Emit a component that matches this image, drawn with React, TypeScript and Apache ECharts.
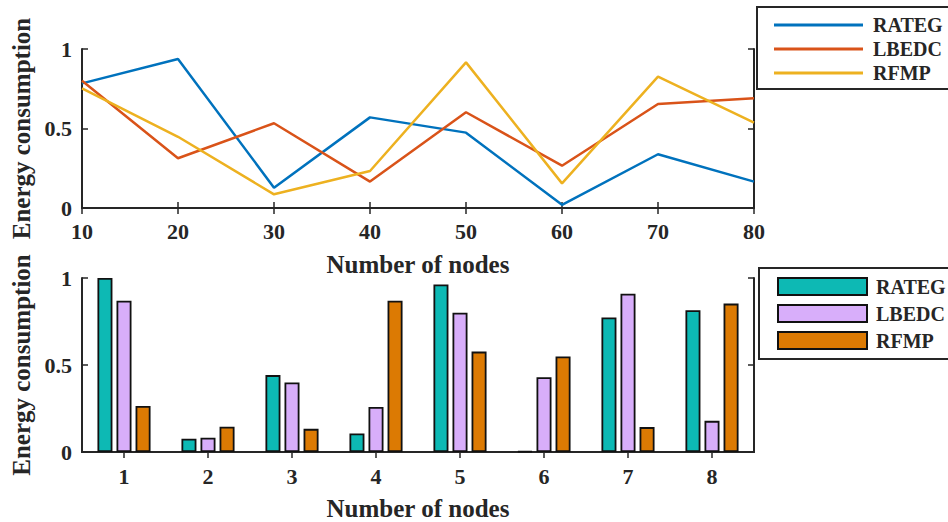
import React, { useEffect, useRef } from "react";
import * as echarts from "echarts";

const seriesNames = ["RATEG", "LBEDC", "RFMP"];
const nodeCounts = [10, 20, 30, 40, 50, 60, 70, 80];
const lineRATEG = [0.784, 0.937, 0.128, 0.57, 0.474, 0.02, 0.338, 0.166];
const lineLBEDC = [0.8, 0.313, 0.533, 0.166, 0.602, 0.266, 0.654, 0.69];
const lineRFMP = [0.753, 0.448, 0.086, 0.233, 0.916, 0.155, 0.826, 0.537];

const barCategories = ["1", "2", "3", "4", "5", "6", "7", "8"];
const barRATEG = [1.0, 0.076, 0.442, 0.106, 0.963, 0.005, 0.773, 0.815];
const barLBEDC = [0.869, 0.082, 0.4, 0.259, 0.8, 0.43, 0.91, 0.179];
const barRFMP = [0.265, 0.145, 0.133, 0.869, 0.577, 0.549, 0.143, 0.853];

const yTicks = { min: 0, max: 1, interval: 0.5 };

const lineColors = ["#0072BD", "#D95319", "#EDB120"];
const barColors = ["#0DB9B4", "#D8AEFA", "#DC7A03"];
const FONT = "'Liberation Serif', 'Times New Roman', serif";
const INK = "#262626";
const BAR_SUFFIX = "\u200b";

export default function App() {
  const ref = useRef<HTMLDivElement>(null);
  useEffect(() => {
    document.body.style.margin = "0";
    const chart = echarts.init(ref.current!, null, { renderer: "svg" });
    const axisLine = { show: true, lineStyle: { color: INK, width: 2 } };
    const axisTick = { show: true, inside: true, length: 6, lineStyle: { color: INK, width: 1.5 } };
    const tickLabel = { fontFamily: FONT, fontWeight: "bold" as const, fontSize: 22, color: INK };
    const nameStyle = { fontFamily: FONT, fontWeight: "bold" as const, fontSize: 25, color: INK };

    const lineData = [lineRATEG, lineLBEDC, lineRFMP];
    const barData = [barRATEG, barLBEDC, barRFMP];

    const option: any = {
      animation: false,
      backgroundColor: "#ffffff",
      grid: [
        { left: 82, top: 49, width: 672, height: 159 },
        { left: 82, top: 278, width: 672, height: 175 },
      ],
      xAxis: [
        {
          gridIndex: 0, type: "value", position: "bottom", min: 10, max: 80, interval: 10,
          axisLine, axisTick, splitLine: { show: false },
          axisLabel: { ...tickLabel, margin: 12 },
          name: "Number of nodes", nameLocation: "middle", nameGap: 44, nameTextStyle: nameStyle,
        },
        {
          gridIndex: 0, type: "value", position: "top", min: 10, max: 80, interval: 10,
          axisLine, axisTick, splitLine: { show: false }, axisLabel: { show: false },
        },
        {
          gridIndex: 1, type: "category", position: "bottom", data: barCategories,
          axisLine, axisTick: { ...axisTick, alignWithLabel: true }, splitLine: { show: false },
          axisLabel: { ...tickLabel, margin: 13 },
          name: "Number of nodes", nameLocation: "middle", nameGap: 44, nameTextStyle: nameStyle,
        },
        {
          gridIndex: 1, type: "category", position: "top", data: barCategories,
          axisLine, axisTick: { ...axisTick, alignWithLabel: true }, splitLine: { show: false },
          axisLabel: { show: false },
        },
      ],
      yAxis: [
        {
          gridIndex: 0, type: "value", position: "left", ...yTicks,
          axisLine, axisTick, splitLine: { show: false },
          axisLabel: { ...tickLabel, margin: 10 },
          name: "Energy consumption", nameLocation: "middle", nameRotate: 90, nameGap: 48, nameTextStyle: nameStyle,
        },
        {
          gridIndex: 0, type: "value", position: "right", ...yTicks,
          axisLine, axisTick, splitLine: { show: false }, axisLabel: { show: false },
        },
        {
          gridIndex: 1, type: "value", position: "left", ...yTicks,
          axisLine, axisTick, splitLine: { show: false },
          axisLabel: { ...tickLabel, margin: 10 },
          name: "Energy consumption", nameLocation: "middle", nameRotate: 90, nameGap: 48, nameTextStyle: nameStyle,
        },
        {
          gridIndex: 1, type: "value", position: "right", ...yTicks,
          axisLine, axisTick, splitLine: { show: false }, axisLabel: { show: false },
        },
      ],
      legend: [
        {
          orient: "vertical", left: 757, top: 7,
          data: seriesNames,
          icon: "rect", itemWidth: 89, itemHeight: 3, itemGap: 4,
          padding: [8, 12, 6, 17],
          borderColor: INK, borderWidth: 2, borderRadius: 0,
          textStyle: { fontFamily: FONT, fontWeight: "bold", fontSize: 20, color: INK, lineHeight: 20, padding: [0, 0, 0, 5] },
        },
        {
          orient: "vertical", left: 759, top: 268,
          data: seriesNames.map((n) => n + BAR_SUFFIX),
          formatter: (n: string) => n.replace(BAR_SUFFIX, ""),
          icon: "rect", itemWidth: 89, itemHeight: 17, itemGap: 7,
          padding: [8.5, 12, 8.5, 18],
          borderColor: INK, borderWidth: 2, borderRadius: 0,
          textStyle: { fontFamily: FONT, fontWeight: "bold", fontSize: 20, color: INK, lineHeight: 17, padding: [0, 0, 0, 4] },
        },
      ],
      series: [
        ...seriesNames.map((n, i) => ({
          name: n, type: "line", xAxisIndex: 0, yAxisIndex: 0,
          data: nodeCounts.map((x, j) => [x, lineData[i][j]]),
          symbol: "none", showSymbol: false,
          lineStyle: { color: lineColors[i], width: 2.5 },
          itemStyle: { color: lineColors[i] },
        })),
        ...seriesNames.map((n, i) => ({
          name: n + BAR_SUFFIX, type: "bar", xAxisIndex: 2, yAxisIndex: 2,
          data: barData[i],
          barWidth: 15, barGap: "27%",
          itemStyle: { color: barColors[i], borderColor: "#111111", borderWidth: 1.8 },
        })),
      ],
    };
    chart.setOption(option);
    return () => chart.dispose();
  }, []);
  return <div ref={ref} style={{ width: 948, height: 522 }} />;
}
